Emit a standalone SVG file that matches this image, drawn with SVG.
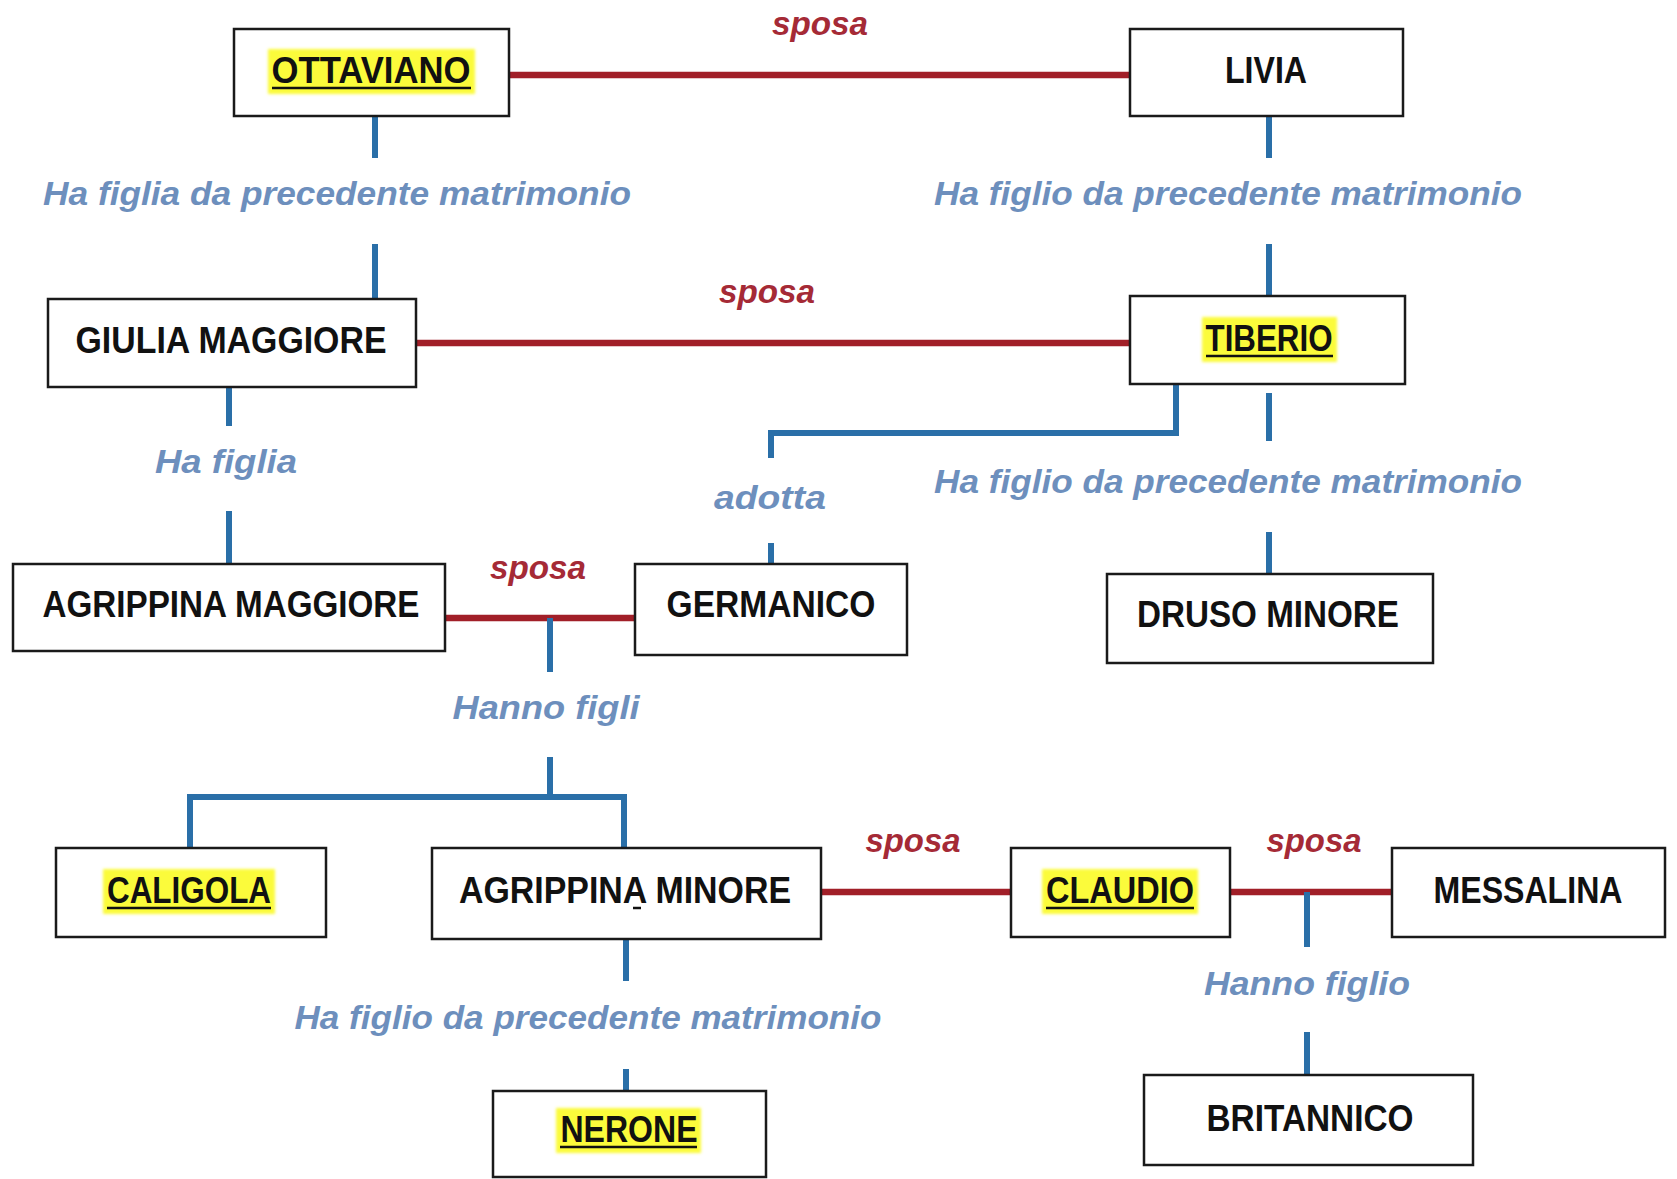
<svg xmlns="http://www.w3.org/2000/svg" width="1677" height="1179" viewBox="0 0 1677 1179">
<style>
.box{fill:#fff;stroke:#1a1a1a;stroke-width:2.5}
.nt{font-family:"Liberation Sans",Arial,sans-serif;font-weight:bold;font-size:36px;fill:#111;text-anchor:middle}
.lb{font-family:"Liberation Sans",Arial,sans-serif;font-weight:bold;font-style:italic;font-size:33px;fill:#6d8fbd;text-anchor:middle}
.sp{font-family:"Liberation Sans",Arial,sans-serif;font-weight:bold;font-style:italic;font-size:33px;fill:#a52a36;text-anchor:middle}
.red{stroke:#a11f28;stroke-width:6.5;fill:none}
.blue{stroke:#2a6fa8;stroke-width:6;fill:none}
.hl{fill:#fbfb3a;filter:url(#soft)}
.ul{stroke:#111;stroke-width:2.5}
</style>
<defs>
<filter id="soft" x="-10%" y="-30%" width="120%" height="160%"><feGaussianBlur stdDeviation="1.5"/></filter>
</defs>
<rect width="1677" height="1179" fill="#fff"/>
<g id="connectors">
<line class="red" x1="509" y1="75" x2="1130" y2="75"/>
<line class="red" x1="416" y1="343" x2="1130" y2="343"/>
<line class="red" x1="445" y1="618" x2="635" y2="618"/>
<line class="red" x1="821" y1="892" x2="1011" y2="892"/>
<line class="red" x1="1230" y1="892" x2="1392" y2="892"/>
<line class="blue" x1="375" y1="116" x2="375" y2="158"/>
<line class="blue" x1="375" y1="244" x2="375" y2="299"/>
<line class="blue" x1="1269" y1="116" x2="1269" y2="158"/>
<line class="blue" x1="1269" y1="244" x2="1269" y2="296"/>
<line class="blue" x1="229" y1="387" x2="229" y2="426"/>
<line class="blue" x1="229" y1="511" x2="229" y2="564"/>
<polyline class="blue" points="1176,384 1176,433 771,433 771,458"/>
<line class="blue" x1="771" y1="543" x2="771" y2="564"/>
<line class="blue" x1="1269" y1="393" x2="1269" y2="441"/>
<line class="blue" x1="1269" y1="532" x2="1269" y2="574"/>
<line class="blue" x1="550" y1="618" x2="550" y2="672"/>
<line class="blue" x1="550" y1="757" x2="550" y2="797"/>
<polyline class="blue" points="190,848 190,797 624,797 624,848"/>
<line class="blue" x1="626" y1="939" x2="626" y2="981"/>
<line class="blue" x1="626" y1="1069" x2="626" y2="1091"/>
<line class="blue" x1="1307" y1="892" x2="1307" y2="947"/>
<line class="blue" x1="1307" y1="1032" x2="1307" y2="1075"/>
</g>
<g id="labels">
<text class="sp" x="820" y="35" textLength="96" lengthAdjust="spacingAndGlyphs">sposa</text>
<text class="sp" x="767" y="303" textLength="96" lengthAdjust="spacingAndGlyphs">sposa</text>
<text class="sp" x="538" y="579" textLength="96" lengthAdjust="spacingAndGlyphs">sposa</text>
<text class="sp" x="913" y="852" textLength="95" lengthAdjust="spacingAndGlyphs">sposa</text>
<text class="sp" x="1314" y="852" textLength="95" lengthAdjust="spacingAndGlyphs">sposa</text>
<text class="lb" x="337" y="205" textLength="588" lengthAdjust="spacingAndGlyphs">Ha figlia da precedente matrimonio</text>
<text class="lb" x="1228" y="205" textLength="588" lengthAdjust="spacingAndGlyphs">Ha figlio da precedente matrimonio</text>
<text class="lb" x="226" y="473" textLength="142" lengthAdjust="spacingAndGlyphs">Ha figlia</text>
<text class="lb" x="770" y="509" textLength="112" lengthAdjust="spacingAndGlyphs">adotta</text>
<text class="lb" x="1228" y="493" textLength="588" lengthAdjust="spacingAndGlyphs">Ha figlio da precedente matrimonio</text>
<text class="lb" x="546" y="719" textLength="187" lengthAdjust="spacingAndGlyphs">Hanno figli</text>
<text class="lb" x="588" y="1029" textLength="587" lengthAdjust="spacingAndGlyphs">Ha figlio da precedente matrimonio</text>
<text class="lb" x="1307" y="995" textLength="206" lengthAdjust="spacingAndGlyphs">Hanno figlio</text>
</g>
<g id="ottaviano">
<rect class="box" x="234" y="29" width="275" height="87"/>
<rect class="hl" x="268" y="49" width="207" height="45"/>
<text class="nt" x="371" y="83" textLength="199" lengthAdjust="spacingAndGlyphs">OTTAVIANO</text>
<line class="ul" x1="272" y1="88" x2="471" y2="88"/>
</g>
<g id="livia">
<rect class="box" x="1130" y="29" width="273" height="87"/>
<text class="nt" x="1266" y="83" textLength="82" lengthAdjust="spacingAndGlyphs">LIVIA</text>
</g>
<g id="giulia-maggiore">
<rect class="box" x="48" y="299" width="368" height="88"/>
<text class="nt" x="231" y="353" textLength="311" lengthAdjust="spacingAndGlyphs">GIULIA MAGGIORE</text>
</g>
<g id="tiberio">
<rect class="box" x="1130" y="296" width="275" height="88"/>
<rect class="hl" x="1202" y="317" width="135" height="45"/>
<text class="nt" x="1269" y="351" textLength="127" lengthAdjust="spacingAndGlyphs">TIBERIO</text>
<line class="ul" x1="1206" y1="356" x2="1333" y2="356"/>
</g>
<g id="agrippina-maggiore">
<rect class="box" x="13" y="564" width="432" height="87"/>
<text class="nt" x="231" y="617" textLength="377" lengthAdjust="spacingAndGlyphs">AGRIPPINA MAGGIORE</text>
</g>
<g id="germanico">
<rect class="box" x="635" y="564" width="272" height="91"/>
<text class="nt" x="771" y="617" textLength="209" lengthAdjust="spacingAndGlyphs">GERMANICO</text>
</g>
<g id="druso-minore">
<rect class="box" x="1107" y="574" width="326" height="89"/>
<text class="nt" x="1268" y="627" textLength="262" lengthAdjust="spacingAndGlyphs">DRUSO MINORE</text>
</g>
<g id="caligola">
<rect class="box" x="56" y="848" width="270" height="89"/>
<rect class="hl" x="103" y="869" width="172" height="45"/>
<text class="nt" x="189" y="903" textLength="164" lengthAdjust="spacingAndGlyphs">CALIGOLA</text>
<line class="ul" x1="107" y1="908" x2="271" y2="908"/>
</g>
<g id="agrippina-minore">
<rect class="box" x="432" y="848" width="389" height="91"/>
<text class="nt" x="625" y="903" textLength="332" lengthAdjust="spacingAndGlyphs">AGRIPPINA MINORE</text>
<line class="ul" x1="633" y1="908" x2="641" y2="908"/>
</g>
<g id="claudio">
<rect class="box" x="1011" y="848" width="219" height="89"/>
<rect class="hl" x="1042" y="869" width="156" height="45"/>
<text class="nt" x="1120" y="903" textLength="148" lengthAdjust="spacingAndGlyphs">CLAUDIO</text>
<line class="ul" x1="1046" y1="908" x2="1194" y2="908"/>
</g>
<g id="messalina">
<rect class="box" x="1392" y="848" width="273" height="89"/>
<text class="nt" x="1528" y="903" textLength="189" lengthAdjust="spacingAndGlyphs">MESSALINA</text>
</g>
<g id="nerone">
<rect class="box" x="493" y="1091" width="273" height="86"/>
<rect class="hl" x="556" y="1108" width="145" height="45"/>
<text class="nt" x="629" y="1142" textLength="137" lengthAdjust="spacingAndGlyphs">NERONE</text>
<line class="ul" x1="560" y1="1147" x2="697" y2="1147"/>
</g>
<g id="britannico">
<rect class="box" x="1144" y="1075" width="329" height="90"/>
<text class="nt" x="1310" y="1131" textLength="207" lengthAdjust="spacingAndGlyphs">BRITANNICO</text>
</g>
</svg>
